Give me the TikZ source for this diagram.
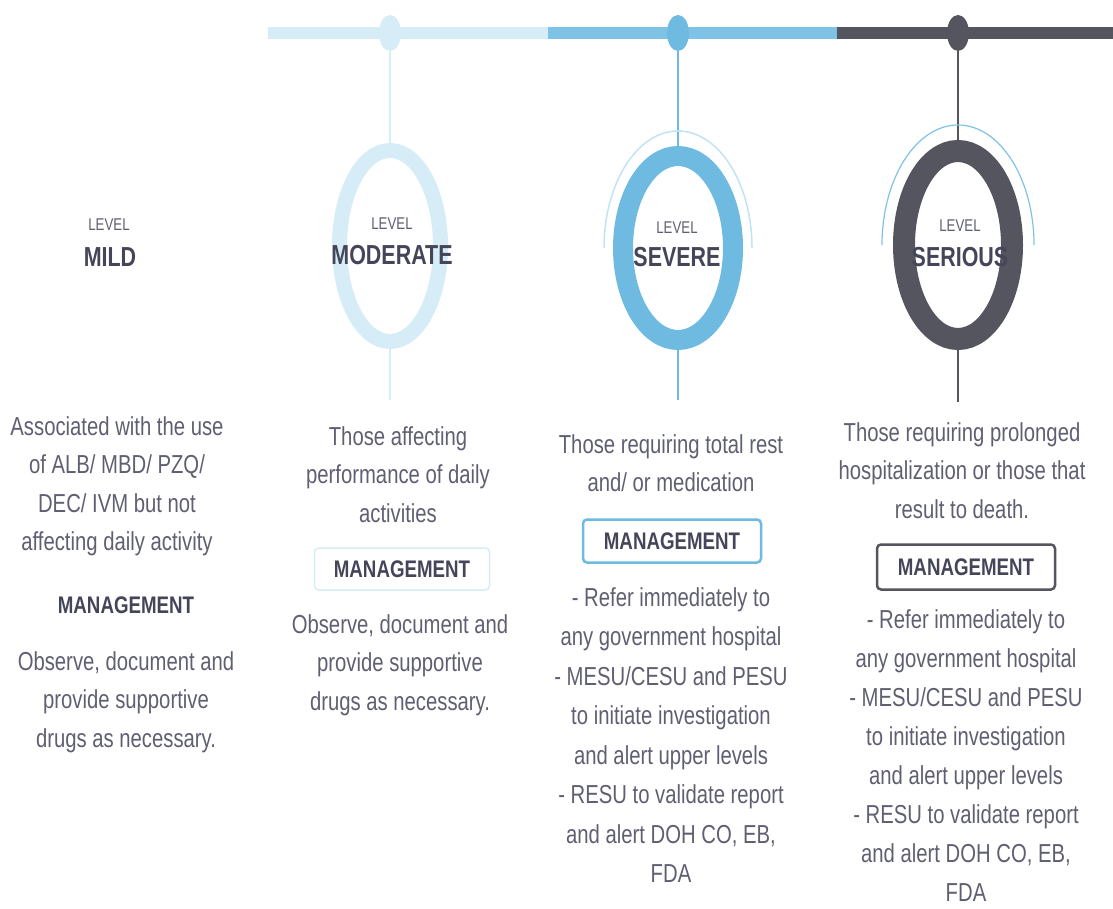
\documentclass[tikz,border=0pt]{standalone}
\usepackage{fontspec}
\setmainfont{Liberation Sans}[FakeStretch=0.78]
\usetikzlibrary{shapes.geometric,positioning}

\definecolor{palecyan}{HTML}{D6EDF7}
\definecolor{skyblue}{HTML}{6FBAE1}
\definecolor{barblue}{HTML}{7EC2E6}
\definecolor{slate}{HTML}{55555F}
\definecolor{txtgray}{HTML}{5F5F72}
\definecolor{darktxt}{HTML}{45455A}

\tikzset{
  body/.style={text=txtgray, align=center, inner sep=0pt, anchor=north,
    font=\fontsize{26}{38.5}\selectfont},
  lvl/.style={text=txtgray, inner sep=0pt, font=\fontsize{17}{19}\selectfont},
  lvname/.style={text=darktxt, inner sep=0pt, font=\fontsize{27.5}{30}\bfseries},
  mgmt/.style={text=darktxt, inner sep=0pt, minimum width=178, minimum height=43,
    rounded corners=4pt, font=\fontsize{24}{28}\bfseries},
  ring/.style={ellipse, inner sep=0pt},
  dot/.style={ellipse, fill, inner sep=0pt, minimum width=22, minimum height=36}
}

\begin{document}
\begin{tikzpicture}[x=1pt,y=-1pt]
  \useasboundingbox (0,0) rectangle (1113,909);
  % timeline bar
  \draw[line width=12pt, palecyan] (268,33) -- (548,33);
  \draw[line width=12pt, barblue] (548,33) -- (837,33);
  \draw[line width=12pt, slate] (837,33) -- (1113,33);
  \node[dot, palecyan] (dmod) at (390,33) {};
  \node[dot, skyblue] (dsev) at (678,33) {};
  \node[dot, slate] (dser) at (958,33) {};

  % rings
  \node[ring, draw=palecyan, line width=15pt, minimum width=101, minimum height=191] (rmod) at (390,246) {};
  \node[ring, draw=skyblue, line width=20pt, minimum width=110, minimum height=184] (rsev) at (678,248) {};
  \node[ring, draw=slate, line width=22pt, minimum width=108, minimum height=188] (rser) at (958,245) {};
  \coordinate (emod) at (390,400);
  \coordinate (esev) at (678,400);
  \coordinate (eser) at (958,402);
  \draw[palecyan, line width=2pt] (dmod) -- (rmod) (rmod) -- (emod);
  \draw[skyblue, line width=2.5pt] (dsev) -- (rsev) (rsev) -- (esev);
  \draw[slate, line width=2.5pt] (dser) -- (rser) (rser) -- (eser);
  \draw[palecyan!80!skyblue, line width=1.5pt] (rsev.center) ++(-74,0)
    arc[start angle=180, end angle=360, x radius=74, y radius=117];
  \draw[barblue, line width=1.2pt] (rser.center) ++(-76,0)
    arc[start angle=180, end angle=360, x radius=76, y radius=120];

  % level labels
  \node[lvl] (lmild) at (109,225) {LEVEL};
  \node[lvname] (nmild) at (110,257) {MILD};
  \node[lvl] (lmod) at (392,224) {LEVEL};
  \node[lvname] (nmod) at (392,255) {MODERATE};
  \node[lvl] (lsev) at (677,228) {LEVEL};
  \node[lvname] (nsev) at (677,257) {SEVERE};
  \node[lvl] (lser) at (960,226) {LEVEL};
  \node[lvname] (nser) at (960,257) {SERIOUS};

  % mild
  \node[body] (tmild) at (117,416) {Associated with the use\\of ALB/ MBD/ PZQ/\\DEC/ IVM but not\\affecting daily activity};
  \node[mgmt] (mmild) at (126,605) {MANAGEMENT};
  \node[body] (omild) at (126,651) {Observe, document and\\provide supportive\\drugs as necessary.};

  % moderate
  \node[body] (tmod) at (398,426) {Those affecting\\performance of daily\\activities};
  \node[mgmt, draw=palecyan, line width=1.5pt, minimum width=175, minimum height=42] (mmod) at (402,569) {MANAGEMENT};
  \node[body] (omod) at (400,614) {Observe, document and\\provide supportive\\drugs as necessary.};

  % severe
  \node[body] (tsev) at (671,434) {Those requiring total rest\\and/ or medication};
  \node[mgmt, draw=skyblue, line width=2.5pt] (msev) at (672,541) {MANAGEMENT};
  \node[body, font=\fontsize{26}{39.5}\selectfont] (osev) at (671,587) {- Refer immediately to\\any government hospital\\- MESU/CESU and PESU\\to initiate investigation\\and alert upper levels\\- RESU to validate report\\and alert DOH CO, EB,\\FDA};

  % serious
  \node[body] (tser) at (962,422) {Those requiring prolonged\\hospitalization or those that\\result to death.};
  \node[mgmt, draw=slate, line width=2.5pt, minimum height=45] (mser) at (966,567) {MANAGEMENT};
  \node[body, font=\fontsize{26}{39}\selectfont] (oser) at (966,609) {- Refer immediately to\\any government hospital\\- MESU/CESU and PESU\\to initiate investigation\\and alert upper levels\\- RESU to validate report\\and alert DOH CO, EB,\\FDA};
\end{tikzpicture}
\end{document}
